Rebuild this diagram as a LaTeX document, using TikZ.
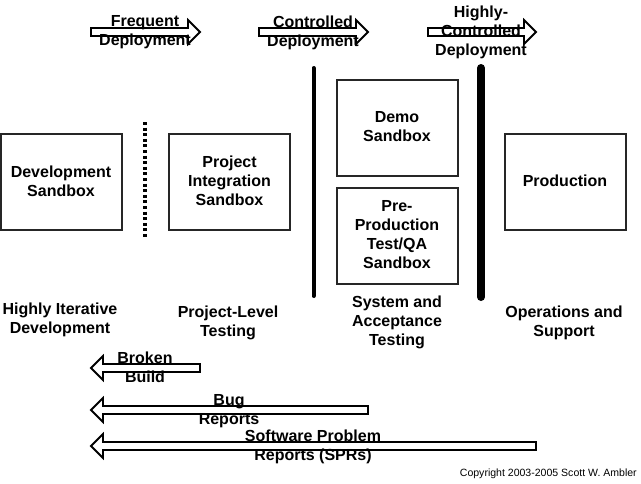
\documentclass[tikz,border=0pt]{standalone}
\usepackage{fontspec}
\setmainfont{Liberation Sans}
\newcommand{\rightflow}[4]{% x0, xtip, yc, name
  \coordinate (#4) at (#1,#3);
  \draw[flowline] (#4) ++(0,-4) -- ++({#2-#1-12},0) -- ++(0,-8) -- (#2,#3) -- ({#2-12},{#3+12}) -- ++(0,-8) -- (#1,{#3+4}) -- cycle;}
\newcommand{\leftflow}[4]{% x0, xtip, yc, name
  \coordinate (#4) at (#1,#3);
  \draw[flowline] (#4) ++(0,-4) -- ({#2+12},{#3-4}) -- ++(0,-8) -- (#2,#3) -- ({#2+12},{#3+12}) -- ++(0,-8) -- (#1,{#3+4}) -- cycle;}
\tikzset{
  x=0.75pt,y=-0.75pt,
  flowline/.style={draw=black,line width=1.35pt,line join=miter},
  sandbox/.style={draw=black!85,line width=1.2pt,minimum width=90.5pt,minimum height=72pt,inner sep=0pt},
  caption/.style={align=center,inner sep=0pt,font=\bfseries\fontsize{12}{14.25}\selectfont},
  copyrighttext/.style={anchor=east,inner sep=0pt,font=\fontsize{7.9}{9.5}\selectfont},
  gate/.style={line cap=round,black},
}
\begin{document}
\begin{tikzpicture}
\useasboundingbox (0,0) rectangle (641,483);
% deployment arrows
\rightflow{91}{200}{32}{fa}
\rightflow{259}{368}{32}{ca}
\rightflow{428}{536}{32}{ha}
\node[caption] (freq) at (145,32.5) {Frequent\\Deployment};
\node[caption] (ctrl) at (313,32.5) {Controlled\\Deployment};
\node[caption] (high) at (481,32) {Highly-\\Controlled\\Deployment};
% sandboxes
\node[sandbox] (dev) at (61.5,182) {};
\node[caption] (devt) at (61,181) {Development\\Sandbox};
\node[sandbox] (proj) at (229.5,182) {};
\node[caption] (projt) at (229.5,181) {Project\\Integration\\Sandbox};
\node[sandbox] (demo) at (397.5,128) {};
\node[caption] (demot) at (397,127) {Demo\\Sandbox};
\node[sandbox] (pre) at (397.5,236) {};
\node[caption] (pret) at (397,235) {Pre-\\Production\\Test/QA\\Sandbox};
\node[sandbox] (prod) at (565.5,182) {};
\node[caption] (prodt) at (565,181) {Production};
% gates
\coordinate (d1) at (145,122); \coordinate (d2) at (145,238);
\coordinate (g1a) at (313.5,68); \coordinate (g1b) at (313.5,296);
\coordinate (g2a) at (481,68); \coordinate (g2b) at (481,297);
\draw[gate,line width=2.3pt,line cap=butt,dash pattern=on 2.3pt off 1.9pt] (d1) -- (d2);
\draw[gate,line width=3pt] (g1a) -- (g1b);
\draw[gate,line width=6pt] (g2a) -- (g2b);
% stage captions
\node[caption] (c1) at (60,319.5) {Highly Iterative\\Development};
\node[caption] (c2) at (228,322.5) {Project-Level\\Testing};
\node[caption] (c3) at (397,322) {System and\\Acceptance\\Testing};
\node[caption] (c4) at (564,322.5) {Operations and\\Support};
% feedback arrows
\leftflow{200}{91}{368}{ba}
\leftflow{368}{91}{410}{bu}
\leftflow{536}{91}{446}{sp}
\node[caption] (brk) at (145,367.5) {Broken\\Build};
\node[caption] (bug) at (229,411.5) {Bug\\Reports};
\node[caption] (spr) at (313,446.5) {Software Problem\\Reports (SPRs)};
\node[copyrighttext] (copy) at (637,474) {Copyright 2003-2005 Scott W. Ambler};
\end{tikzpicture}
\end{document}
